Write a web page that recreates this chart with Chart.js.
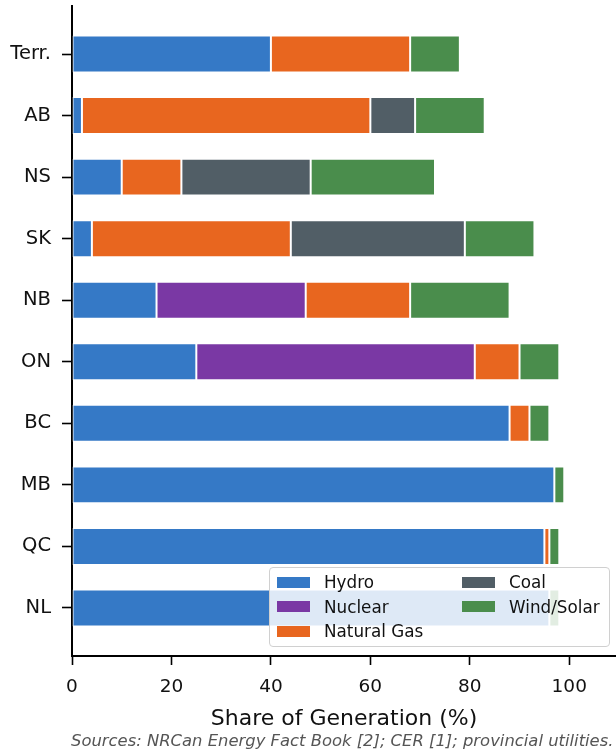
<!DOCTYPE html>
<html lang="en">
<head>
  <meta charset="UTF-8">
  <title>Share of Generation by Province</title>
  <script src="https://cdn.jsdelivr.net/npm/chart.js"></script>
  <style>
    body {
      margin: 0;
      background: #fff;
      font-family: 'DejaVu Sans', sans-serif;
    }
    #wrap {
      position: relative;
      width: 616px;
      height: 755px;
    }
    #legenda {
      position: absolute;
      left: 269px;
      top: 567px;
      width: 339px;
      height: 78px;
      background: rgba(255, 255, 255, 0.84);
      border: 1.5px solid #d0d0d0;
      border-radius: 4px;
    }
    .item {
      position: absolute;
      display: flex;
      align-items: center;
      height: 24px;
      font-size: 16.8px;
      color: #111;
      white-space: nowrap;
    }
    .item span.sw {
      display: inline-block;
      width: 33px;
      height: 11px;
      margin-right: 14px;
    }
    #fonte {
      position: absolute;
      left: 71px;
      top: 731px;
      font-size: 16.4px;
      font-style: italic;
      color: #555;
      white-space: nowrap;
    }
  </style>
</head>
<body>
  <div id="wrap">
    <canvas id="grafico" width="616" height="755"></canvas>
    <div id="legenda"></div>
    <div id="fonte">Sources: NRCan Energy Fact Book [2]; CER [1]; provincial utilities.</div>
  </div>

  <script>
    // provinces, top to bottom
    const provincias = ['Terr.', 'AB', 'NS', 'SK', 'NB', 'ON', 'BC', 'MB', 'QC', 'NL'];

    // share of generation (%) per source
    const hydro   = [40,  2, 10,  4, 17, 25, 88, 97, 95, 96];
    const nuclear = [ 0,  0,  0,  0, 30, 56,  0,  0,  0,  0];
    const gas     = [28, 58, 12, 40, 21,  9,  4,  0,  1,  0];
    const coal    = [ 0,  9, 26, 35,  0,  0,  0,  0,  0,  0];
    const wind    = [10, 14, 25, 14, 20,  8,  4,  2,  2,  2];

    const xTicks = [0, 20, 40, 60, 80, 100];

    const fontes = [
      { label: 'Hydro',       data: hydro,   cor: '#3579c6' },
      { label: 'Nuclear',     data: nuclear, cor: '#7a38a4' },
      { label: 'Natural Gas', data: gas,     cor: '#e8661f' },
      { label: 'Coal',        data: coal,    cor: '#515e66' },
      { label: 'Wind/Solar',  data: wind,    cor: '#4a8d4c' }
    ];

    const datasets = fontes.map(f => ({
      label: f.label,
      data: f.data.map((v, i) => ({ x: v, y: i })),
      backgroundColor: f.cor,
      borderColor: 'rgba(255,255,255,0.85)',
      borderWidth: 1,
      borderSkipped: false,
      categoryPercentage: 1,
      barPercentage: 0.6
    }));

    // legend drawn as html, two columns like the original
    let legenda = document.getElementById('legenda');
    fontes.forEach((f, i) => {
      let col = i < 3 ? 0 : 1;
      let row = i % 3;
      let item = document.createElement('div');
      item.className = 'item';
      item.style.left = (7 + col * 185) + 'px';
      item.style.top = (2 + row * 24.6) + 'px';
      item.innerHTML = '<span class="sw" style="background:' + f.cor + '"></span>' + f.label;
      legenda.appendChild(item);
    });

    Chart.defaults.font.family = "'DejaVu Sans', sans-serif";
    Chart.defaults.color = '#111';

    let ctx = document.getElementById('grafico').getContext('2d');
    new Chart(ctx, {
      type: 'bar',
      data: { datasets: datasets },
      options: {
        responsive: false,
        animation: false,
        indexAxis: 'y',
        layout: { padding: { top: 6, right: 0, left: 0, bottom: 0 } },
        plugins: {
          legend: { display: false },
          tooltip: { enabled: false }
        },
        scales: {
          x: {
            type: 'linear',
            stacked: true,
            offset: false,
            min: 0,
            max: 109.4,
            afterBuildTicks: s => { s.ticks = xTicks.map(v => ({ value: v })); },
            afterFit: s => { s.height = 99; },
            grid: {
              offset: false,
              drawOnChartArea: false,
              drawTicks: true,
              tickLength: 9,
              tickWidth: 1.6,
              tickColor: '#000'
            },
            border: { display: true, color: '#000', width: 2 },
            ticks: { font: { size: 18.5 }, padding: 11, color: '#111' },
            title: {
              display: true,
              text: 'Share of Generation (%)',
              font: { size: 22 },
              color: '#111',
              padding: { top: 0, bottom: 23 }
            }
          },
          y: {
            type: 'linear',
            stacked: true,
            reverse: true,
            offset: false,
            min: -0.78,
            max: 9.78,
            afterBuildTicks: s => { s.ticks = provincias.map((_, i) => ({ value: i })); },
            afterFit: s => { s.width = 72; s.paddingTop = 0; s.paddingBottom = 0; },
            grid: {
              offset: false,
              drawOnChartArea: false,
              drawTicks: true,
              tickLength: 10,
              tickWidth: 1.6,
              tickColor: '#000'
            },
            border: { display: true, color: '#000', width: 2 },
            ticks: {
              font: { size: 19.5 },
              padding: 11,
              color: '#111',
              callback: v => provincias[v]
            }
          }
        }
      }
    });
  </script>
</body>
</html>
